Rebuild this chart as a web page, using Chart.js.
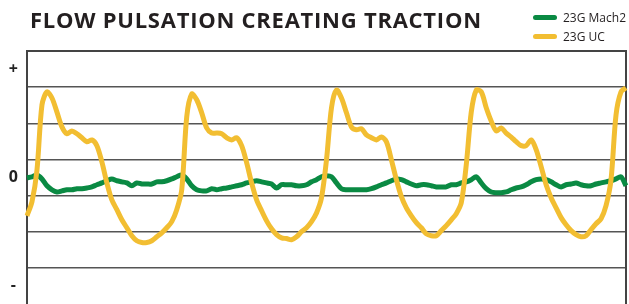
<!DOCTYPE html>
<html>
<head>
<meta charset="utf-8">
<script src="https://cdn.jsdelivr.net/npm/chart.js@4.4.1/dist/chart.umd.min.js"></script>
<style>
  body { margin: 0; background: #fff; }
  #wrap { position: relative; width: 629px; height: 304px; overflow: hidden; }
  #title { position: absolute; left: 30px; top: 4px; font: bold 22px "Open Sans", sans-serif; letter-spacing: 0.75px; color: #231f20; white-space: nowrap; }
  #legend { position: absolute; left: 533px; top: 10px; font: 12px "Open Sans", sans-serif; color: #231f20; }
  #legend div { height: 19px; line-height: 16px; white-space: nowrap; }
  #legend span { display: inline-block; width: 24px; height: 5px; border-radius: 3px; vertical-align: middle; margin-right: 6px; margin-top: -2px; }
</style>
</head>
<body>
<div id="wrap">
  <canvas id="myChart"></canvas>
  <div id="title">FLOW PULSATION CREATING TRACTION</div>
  <div id="legend"></div>
</div>
<script>
/*Data*/
var seriesNames = ['23G Mach2', '23G UC'];
var seriesColors = ['#0a8a43', '#f2be32'];

var mach2 = [-0.01, 0.02, 0.07, -0.04, -0.23, -0.34, -0.40, -0.37, -0.34, -0.34,
  -0.31, -0.31, -0.29, -0.26, -0.20, -0.15, -0.09, -0.04, -0.09, -0.12,
  -0.15, -0.23, -0.15, -0.18, -0.18, -0.18, -0.12, -0.12, -0.09, -0.04,
  0.02, 0.07, -0.04, -0.23, -0.34, -0.37, -0.37, -0.31, -0.34, -0.31,
  -0.29, -0.26, -0.23, -0.20, -0.15, -0.12, -0.09, -0.12, -0.15, -0.18,
  -0.29, -0.20, -0.20, -0.20, -0.23, -0.23, -0.20, -0.12, -0.06, 0.02,
  0.05, 0.02, -0.15, -0.31, -0.34, -0.34, -0.34, -0.34, -0.34, -0.31,
  -0.26, -0.20, -0.15, -0.09, -0.04, -0.06, -0.12, -0.18, -0.23, -0.20,
  -0.20, -0.23, -0.26, -0.26, -0.26, -0.20, -0.20, -0.15, -0.12, -0.06,
  0.02, -0.15, -0.31, -0.40, -0.42, -0.42, -0.40, -0.34, -0.29, -0.26,
  -0.20, -0.12, -0.06, -0.04, -0.06, -0.12, -0.20, -0.26, -0.20, -0.18,
  -0.15, -0.20, -0.23, -0.23, -0.18, -0.15, -0.12, -0.09, -0.04, 0.02,
  -0.23];

var uc = [-1.06, -0.67, 0.21, 2.01, 2.37, 2.20, 1.81, 1.40, 1.21, 1.29,
  1.21, 1.10, 0.99, 1.04, 0.88, 0.43, -0.15, -0.62, -0.89, -1.17,
  -1.39, -1.61, -1.75, -1.80, -1.80, -1.75, -1.64, -1.53, -1.39, -1.22,
  -0.89, -0.34, 1.68, 2.31, 2.15, 1.79, 1.37, 1.23, 1.23, 1.21,
  1.10, 1.04, 1.10, 0.88, 0.41, -0.15, -0.62, -0.92, -1.20, -1.42,
  -1.58, -1.67, -1.69, -1.72, -1.64, -1.50, -1.39, -1.22, -0.98, -0.56,
  0.49, 1.93, 2.42, 2.20, 1.79, 1.40, 1.32, 1.35, 1.18, 1.10,
  1.04, 1.12, 0.99, 0.49, -0.06, -0.53, -0.84, -1.06, -1.25, -1.39,
  -1.56, -1.61, -1.61, -1.47, -1.33, -1.17, -1.00, -0.70, 0.35, 1.81,
  2.42, 2.37, 1.93, 1.56, 1.29, 1.37, 1.23, 1.12, 0.99, 0.88,
  0.88, 1.04, 0.77, 0.30, -0.20, -0.56, -0.84, -1.11, -1.31, -1.47,
  -1.58, -1.64, -1.61, -1.44, -1.28, -1.14, -0.78, -0.06, 1.73, 2.37,
  2.48];

var gridValues = [2.5, 1.5, 0.5, -0.5, -1.5, -2.5];
var tickValues = [3, 0, -3];
var tickLabels = ['+', '0', '-'];

var samples = [];
for (i in mach2){
    samples.push(i);
}

/*Legend*/
var legendHtml = '';
for (var k = 0; k < seriesNames.length; k++){
    legendHtml += '<div><span style="background:' + seriesColors[k] + '"></span>' + seriesNames[k] + '</div>';
}
document.getElementById('legend').innerHTML = legendHtml;

/*Frame: top and right side*/
const frame = {
    id: 'frame',
    beforeDatasetsDraw(chart){
        const a = chart.chartArea;
        const c = chart.ctx;
        c.save();
        c.strokeStyle = '#444';
        c.lineWidth = 2;
        c.beginPath();
        c.moveTo(a.left, a.top);
        c.lineTo(a.right, a.top);
        c.lineTo(a.right, a.bottom);
        c.stroke();
        c.restore();
    }
};

/*Chart*/
const ctx = document.getElementById('myChart');
new Chart(ctx, {
    type: 'line',
    data: {
        labels: samples,
        datasets: [{
            label: seriesNames[0],
            data: mach2,
            borderColor: seriesColors[0],
            borderWidth: 5,
            pointRadius: 0,
            tension: 0.3,
            order: 2
        }, {
            label: seriesNames[1],
            data: uc,
            borderColor: seriesColors[1],
            borderWidth: 5,
            pointRadius: 0,
            tension: 0.3,
            order: 1
        }]
    },
    options: {
        responsive: true,
        maintainAspectRatio: false,
        animation: false,
        layout: {
            padding: { top: 51, right: 3, bottom: 0, left: 0 }
        },
        plugins: {
            legend: { display: false },
            tooltip: { enabled: false }
        },
        scales: {
            x: {
                display: false
            },
            y: {
                min: -3.5,
                max: 3.5,
                afterBuildTicks: function(scale){
                    scale.ticks = gridValues.concat(tickValues).map(function(v){ return { value: v }; });
                },
                afterFit: function(scale){
                    scale.width = 27;
                    scale.paddingTop = 0;
                    scale.paddingBottom = 0;
                },
                border: { color: '#444', width: 2 },
                grid: {
                    drawTicks: false,
                    lineWidth: 1.5,
                    color: function(c){
                        return gridValues.indexOf(c.tick.value) >= 0 ? '#555' : 'rgba(0,0,0,0)';
                    }
                },
                ticks: {
                    autoSkip: false,
                    crossAlign: 'center',
                    padding: 9,
                    color: '#222',
                    font: { family: 'Open Sans', size: 16, weight: 'bold' },
                    callback: function(value){
                        var n = tickValues.indexOf(value);
                        return n >= 0 ? tickLabels[n] : '';
                    }
                }
            }
        }
    },
    plugins: [frame]
});
</script>
</body>
</html>
